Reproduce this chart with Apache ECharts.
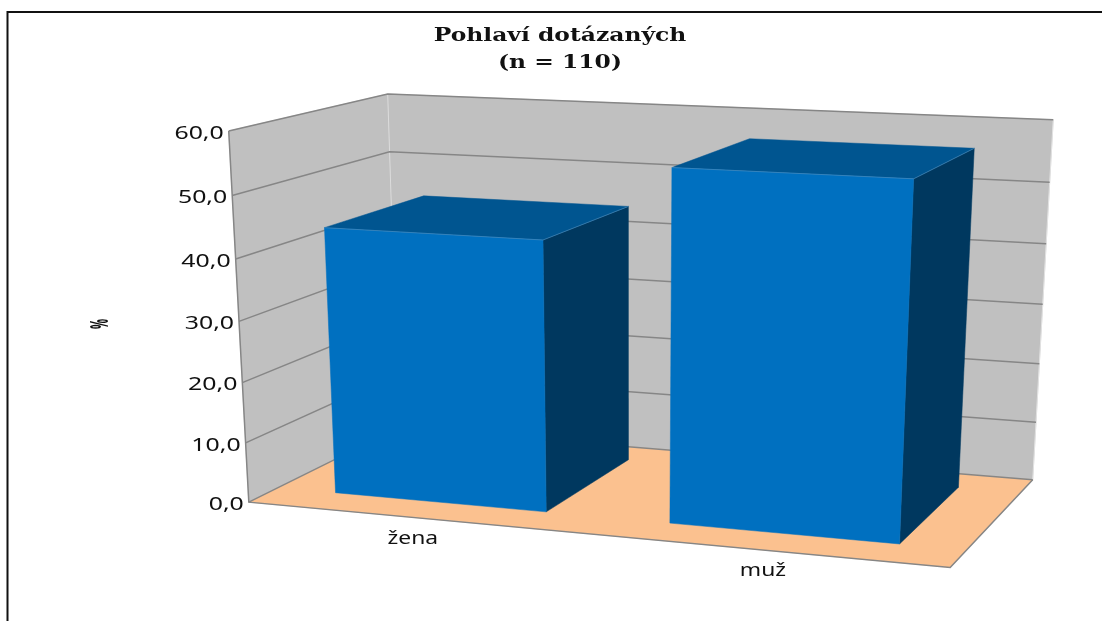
<!DOCTYPE html>
<html>
<head>
<meta charset="utf-8">
<style>html,body{margin:0;padding:0;background:#fff}#c{width:1102px;height:621px}</style>
<script src="https://cdn.jsdelivr.net/npm/echarts@6/dist/echarts.min.js"></script>
</head>
<body>
<div id="c"></div>
<script>
const categories = ['žena', 'muž'];
const percentValues = [44.0, 56.1];
const axisTicks = [0, 10, 20, 30, 40, 50, 60];
const tickLabels = ['0,0', '10,0', '20,0', '30,0', '40,0', '50,0', '60,0'];
const chartTitle = 'Pohlaví dotázaných\n(n = 110)';
const axisTitle = '%';

/* Camera: fits a projective map (u along categories, v up the value axis, w into depth) */
const corners = [[0,0,0,250,502],[0,1,0,227,131],[0,1,1,389,94],[1,0,0,950,568],[1,1,1,1053,120],[1,0,1,1033,479]];
const calibration = [
  ...corners, ...corners, ...corners,
  [0,0,1,393,429],[0,.5,0,240,321],[1,.5,1,1043,304],[0,5/6,0,232,195],[0,1/6,0,246.7,442.7],
  [0,5/6,1,391,152],[1,5/6,1,1049,182],[1,1/6,1,1036.7,423]
];
function fitCamera(pts) {
  const n = 11, A = Array.from({length: n}, () => new Array(n + 1).fill(0));
  const add = (r, t) => {
    for (let i = 0; i < n; i++) { for (let j = 0; j < n; j++) A[i][j] += r[i] * r[j]; A[i][n] += r[i] * t; }
  };
  pts.forEach(([u, v, w, x, y]) => {
    x /= 1000; y /= 1000;
    add([u, v, w, 1, 0, 0, 0, 0, -x * u, -x * v, -x * w], x);
    add([0, 0, 0, 0, u, v, w, 1, -y * u, -y * v, -y * w], y);
  });
  for (let c = 0; c < n; c++) {
    let m = c;
    for (let r = c + 1; r < n; r++) if (Math.abs(A[r][c]) > Math.abs(A[m][c])) m = r;
    [A[c], A[m]] = [A[m], A[c]];
    for (let r = 0; r < n; r++) {
      if (r === c) continue;
      const f = A[r][c] / A[c][c];
      for (let k = c; k <= n; k++) A[r][k] -= f * A[c][k];
    }
  }
  return A.map((row, i) => row[n] / row[i]);
}
const P = fitCamera(calibration);
function project(u, v, w) {
  const d = P[8] * u + P[9] * v + P[10] * w + 1;
  return [1000 * (P[0] * u + P[1] * v + P[2] * w + P[3]) / d, 1000 * (P[4] * u + P[5] * v + P[6] * w + P[7]) / d];
}
const BAR_FILL = 0.64, DEPTH_FRONT = 0.18, DEPTH_BACK = 0.84;
const COLORS = {wall: '#c0c0c0', floor: '#fbc18f', grid: '#868686', front: '#0070c0', top: '#005590', side: '#00385f', seam: '#4f8fbd'};
const LABEL_FONT = '18px "Noto Sans"';

const norm = (cs, px) => [(px[0] - cs.x) / cs.width, (cs.y + cs.height - px[1]) / cs.height];
const poly = (points, fill, stroke, z2) => ({type: 'polygon', z2: z2 || 0, shape: {points},
  style: {fill, stroke: stroke || fill, lineWidth: stroke ? 1 : 0.5}});
const line = (points, stroke, lineWidth, z2) => ({type: 'polyline', z2: z2 || 1, shape: {points},
  style: {fill: 'none', stroke, lineWidth}});
const label = (text, x, y, align, scaleX, font) => ({type: 'text', x, y, scaleX, z2: 5,
  style: {text, align, verticalAlign: 'middle', font: font || LABEL_FONT, fill: '#111'}});

function renderFrame() {
  return {type: 'group', children: [
    poly([project(0,0,0), project(0,1,0), project(0,1,1), project(0,0,1)], COLORS.wall),
    poly([project(0,0,1), project(0,1,1), project(1,1,1), project(1,0,1)], COLORS.wall),
    poly([project(0,0,0), project(1,0,0), project(1,0,1), project(0,0,1)], COLORS.floor),
    line([project(0,0,1), project(0,1,1)], '#dcdcdc', 1),
    line([project(1,0,1), project(1,1,1)], '#e2e2e2', 1),
    line([project(0,1,0), project(0,0,0), project(1,0,0), project(1,0,1)], COLORS.grid, 1.5, 2)
  ]};
}
function renderTick(params, api) {
  const cs = params.coordSys;
  const [, v] = norm(cs, api.coord([0, api.value(1)]));
  const a = project(0, v, 0);
  return {type: 'group', children: [
    line([a, project(0, v, 1), project(1, v, 1)], COLORS.grid, 1.5),
    label(tickLabels[params.dataIndex], a[0] - 5, a[1] + 2.5, 'right', 1.38)
  ]};
}
function renderBar(params, api) {
  const cs = params.coordSys;
  const idx = api.value(0), val = api.value(1);
  const half = api.size([1, 0])[0] * BAR_FILL / 2;
  const c = api.coord([idx, val]);
  const [u, v] = norm(cs, c);
  const du = half / cs.width;
  const u0 = u - du, u1 = u + du;
  const F0 = project(u0,0,DEPTH_FRONT), F1 = project(u1,0,DEPTH_FRONT), B1 = project(u1,0,DEPTH_BACK);
  const T0 = project(u0,v,DEPTH_FRONT), T1 = project(u1,v,DEPTH_FRONT), U0 = project(u0,v,DEPTH_BACK), U1 = project(u1,v,DEPTH_BACK);
  const edge = project(u, 0, 0);
  return {type: 'group', children: [
    poly([F1, T1, U1, B1], COLORS.side),
    poly([T0, T1, U1, U0], COLORS.top),
    poly([F0, F1, T1, T0], COLORS.front),
    line([T0, T1, U1], COLORS.seam, 0.6),
    label(categories[idx], edge[0], edge[1] + 21, 'center', 1.27)
  ]};
}

const chart = echarts.init(document.getElementById('c'), null, {renderer: 'canvas'});
chart.setOption({
  animation: false,
  backgroundColor: '#fff',
  grid: {left: 250, top: 145, width: 700, height: 357},
  xAxis: {type: 'category', data: categories, show: false},
  yAxis: {type: 'value', min: 0, max: 60, interval: 10,
    axisLine: {show: false}, axisTick: {show: false}, axisLabel: {show: false}, splitLine: {show: false}},
  graphic: [
    {type: 'rect', shape: {x: 7.5, y: 12, width: 1200, height: 800}, style: {fill: 'none', stroke: '#111', lineWidth: 2}, silent: true, z: -1},
    {type: 'text', x: 560, y: 49.5, scaleX: 1.3, silent: true,
      style: {text: chartTitle, align: 'center', verticalAlign: 'middle', lineHeight: 27, font: 'bold 18px "DejaVu Serif"', fill: '#111'}},
    {type: 'text', x: 101, y: 324, rotation: Math.PI / 2, scaleX: 0.62, scaleY: 1.38, silent: true,
      style: {text: axisTitle, align: 'center', verticalAlign: 'middle', font: 'bold 18px "Noto Sans"', fill: '#111'}}
  ],
  series: [
    {type: 'custom', coordinateSystem: 'cartesian2d', silent: true, z: 1, data: [[0, 0]], renderItem: renderFrame, clip: false},
    {type: 'custom', coordinateSystem: 'cartesian2d', silent: true, z: 2, data: axisTicks.map(t => [0, t]), encode: {x: 0, y: 1}, renderItem: renderTick, clip: false},
    {type: 'custom', coordinateSystem: 'cartesian2d', silent: true, z: 3, data: percentValues.map((p, i) => [i, p]), encode: {x: 0, y: 1}, renderItem: renderBar, clip: false}
  ]
});
</script>
</body>
</html>
